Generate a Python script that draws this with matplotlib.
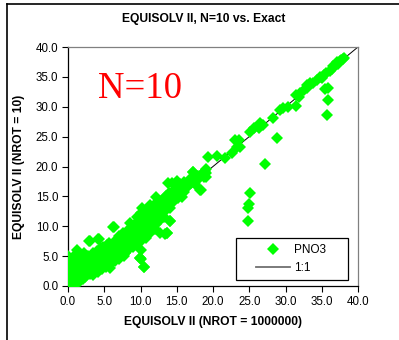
import matplotlib
matplotlib.use("Agg")
import matplotlib.pyplot as plt
from matplotlib.lines import Line2D
from matplotlib.patches import Rectangle

plt.rcParams['font.family'] = ['Liberation Sans', 'DejaVu Sans']

title = "EQUISOLV II, N=10 vs. Exact"
xlabel = "EQUISOLV II (NROT = 1000000)"
ylabel = "EQUISOLV II (NROT = 10)"
annot = "N=10"
series_name = "PNO3"
line_name = "1:1"
ticks = [0, 5, 10, 15, 20, 25, 30, 35, 40]
one_to_one = [0, 40]

# (x, y) pairs
pts_origin = [(0.0,0.0),(0.1,0.3),(0.0,0.8),(0.2,1.2),(0.0,1.6),(0.1,2.0),(0.0,2.5),(0.1,3.0),(0.0,3.5),
    (0.05,4.2),(0.05,5.0),(0.3,0.1),(0.4,0.6),(0.5,1.0),(0.3,1.5),(0.5,2.2),(0.4,2.8),(0.6,3.3),(0.2,3.9),
    (0.7,0.2),(0.8,0.8),(0.9,1.4),(0.8,2.0),(1.0,2.6),(0.9,3.2),(1.1,3.8),(1.2,0.5),(1.3,1.1),(1.4,1.8),
    (1.2,2.3),(1.5,2.9),(1.3,3.5),(1.2,4.5),(1.0,5.2),(1.6,0.9),(1.7,1.6),(1.8,2.4),(1.9,3.0),(1.7,3.7),
    (2.0,1.2),(2.1,2.0),(2.2,2.8),(2.3,3.4),(2.0,4.0),(1.5,4.8),(1.2,6.0),(0.5,4.5),(0.3,0.4),(0.6,1.8),
    (1.0,0.1),(0.2,2.4),(0.8,4.0),(0.7,0.0),(0.1,4.6)]
pts_low = [(2.4,1.5),(2.5,2.3),(2.6,3.0),(2.7,3.8),(2.5,4.5),(2.8,5.0),(2.9,7.6),(3.0,2.0),(3.1,2.7),
    (3.2,3.5),(3.3,4.2),(3.0,4.9),(3.4,5.5),(3.5,1.8),(3.6,2.5),(3.7,3.2),(3.8,4.0),(3.9,4.6),(3.6,5.2),
    (4.0,5.8),(4.2,7.9),(4.1,2.4),(4.2,3.1),(4.3,3.8),(4.4,4.5),(4.5,5.2),(4.3,6.0),(4.6,6.3),(4.7,2.8),
    (4.8,3.5),(4.9,4.2),(5.0,4.9),(5.0,5.6),(4.8,6.6),(2.2,5.5)]
pts_mid = [(5.2,3.2),(5.3,4.0),(5.4,4.7),(5.5,5.3),(5.6,6.1),(5.4,6.8),(5.7,7.2),(5.8,3.0),(5.9,3.8),
    (6.0,4.5),(6.1,5.2),(6.2,5.9),(6.0,6.6),(6.3,7.3),(6.2,9.8),(6.5,4.2),(6.6,5.0),(6.7,5.7),(6.8,6.4),
    (6.6,7.1),(6.9,7.8),(7.0,8.4),(7.1,4.6),(7.2,5.4),(7.3,6.2),(7.4,6.9),(7.2,7.6),(7.5,8.2),(7.6,8.8),
    (7.7,5.1),(7.8,5.9),(7.9,5.5),(7.9,6.7),(8.0,7.4),(7.8,8.1),(8.1,8.7),(8.2,9.2)]
pts_ten = [(8.3,6.0),(8.4,6.8),(8.5,7.5),(8.6,8.2),(8.4,8.9),(8.6,10.5),(8.7,9.5),(8.9,6.5),(9.0,7.3),
    (9.1,8.0),(9.2,8.7),(9.0,9.4),(9.3,10.0),(9.4,10.6),(9.5,7.0),(9.6,7.8),(9.7,8.5),(9.8,9.2),(9.6,9.9),
    (9.9,10.5),(9.9,4.7),(10.0,6.0),(10.1,4.6),(10.5,3.2),(10.1,7.5),(10.2,8.3),(10.3,9.0),(10.4,9.7),
    (10.2,10.4),(10.5,11.0),(10.2,13.0),(10.6,11.8),(10.7,8.0),(10.8,8.8),(10.9,9.6),(11.0,10.3),
    (10.8,11.1),(11.1,11.8),(11.2,12.5),(11.3,13.6),(10.0,12.3),(9.5,11.5)]
pts_twelve = [(11.4,9.0),(11.5,9.8),(11.6,10.6),(11.7,11.4),(11.5,12.2),(11.8,12.9),(11.9,13.5),
    (12.0,9.5),(12.1,10.4),(12.2,11.2),(12.3,12.0),(12.1,12.8),(12.4,13.5),(12.2,14.9),(12.5,14.2),
    (12.6,10.8),(12.7,8.9),(12.8,11.7),(12.9,12.5),(13.0,13.3),(12.8,14.0),(13.1,14.6),(13.2,11.5),
    (13.4,8.7),(13.5,12.8),(13.6,8.8),(13.6,13.6),(13.7,14.4),(13.5,15.0),(13.9,15.6),(14.1,10.8),
    (14.0,13.0),(14.2,14.0),(14.3,14.8),(14.1,15.6),(14.3,17.2),(13.8,17.2),(12.2,13.8)]
pts_upper = [(14.6,14.2),(14.7,15.0),(14.8,15.8),(14.9,16.8),(15.0,17.5),(15.2,14.8),(15.3,15.5),
    (15.5,16.2),(15.4,17.0),(15.7,16.0),(15.9,16.7),(16.0,17.4),(16.2,16.5),(16.4,17.2),(16.5,16.8),
    (16.7,17.6),(16.9,18.0),(17.2,19.1),(17.0,17.3),(17.3,17.8),(17.5,18.2),(17.7,17.5),(17.9,18.4),
    (18.1,18.0),(18.2,16.1),(18.4,18.6),(18.6,18.9),(18.7,18.3),(18.9,19.2),(19.1,19.5),(17.5,17.0),
    (16.0,15.8),(15.7,14.9),(14.5,15.8),(16.4,16.6),(19.1,18.3),(19.0,18.9)]
pts_high = [(19.3,21.6),(20.5,21.8),(21.7,21.4),(22.6,22.2),(23.0,24.4),(23.6,24.4),(23.3,23.3),
    (23.7,23.3),(25.1,25.8),(25.6,26.4),(26.5,27.2),(26.3,26.4),(26.9,27.0),(28.3,28.2),(29.2,29.5),
    (29.7,29.8),(30.4,30.0),(31.4,30.1),(31.5,32.0),(32.0,32.3),(32.5,32.8),(32.9,33.6),(33.4,33.9),
    (33.8,34.0),(34.4,34.5),(34.8,35.0),(35.3,35.3),(35.6,35.6),(36.1,35.9),(36.4,36.4),(36.8,37.0),
    (37.1,37.5),(37.5,37.7),(37.7,37.8),(37.9,38.0),(38.1,38.2),(36.6,36.8),(37.3,37.2),(35.0,34.8),
    (33.0,33.2),(31.8,31.6)]
pts_outliers = [(35.5,32.9),(35.8,33.2),(35.8,31.1),(35.7,28.6),(28.8,24.7),(27.2,20.4),(25.1,15.6),
    (25.0,13.7),(24.8,13.0),(24.8,10.9),(13.6,8.8),(14.1,10.8),(10.5,3.2),(9.9,4.7),(3.0,7.5),(4.3,7.9),
    (6.3,9.9),(7.9,5.5),(17.3,19.1),(18.4,16.1)]

groups = [pts_origin, pts_low, pts_mid, pts_ten, pts_twelve, pts_upper, pts_high, pts_outliers]
xs = [p[0] for g in groups for p in g]
ys = [p[1] for g in groups for p in g]

fig = plt.figure(figsize=(3.99, 3.40), dpi=100)
ax = fig.add_axes([68/399, 1-286/340, 290/399, 239/340])

ax.plot(one_to_one, one_to_one, color='black', lw=0.7, zorder=2)
ax.plot(xs, ys, linestyle='none', marker='D', ms=6.0, mfc='#00FF00', mec='#00FF00', mew=0, zorder=3)

ax.set_xlim(0, 40)
ax.set_ylim(0, 40)
ax.set_xticks(ticks)
ax.set_yticks(ticks)
ax.set_xticklabels([f"{t:.1f}" for t in ticks], fontsize=8.3)
ax.set_yticklabels([f"{t:.1f}" for t in ticks], fontsize=8.3)
ax.tick_params(direction='out', length=4, width=0.8, pad=3)
for s in ['left', 'bottom']:
    ax.spines[s].set_color('black')
    ax.spines[s].set_linewidth(0.9)
for s in ['top', 'right']:
    ax.spines[s].set_color('#808080')
    ax.spines[s].set_linewidth(0.9)

ax.set_xlabel(xlabel, fontsize=8.7, fontweight='bold', labelpad=6)
ax.set_ylabel(ylabel, fontsize=8.7, fontweight='bold', labelpad=8)
fig.text(204/399, 1-19/340, title, fontsize=8.7, fontweight='bold', ha='center', va='center')

ax.text(0.105, 0.825, annot, transform=ax.transAxes, fontsize=26.5, color='red',
        family=['Liberation Serif', 'DejaVu Serif'], ha='left', va='center')

# legend frame
ax.add_patch(Rectangle(((236-68)/290, (286-280)/239), (348-236)/290, 42/239, transform=ax.transAxes,
                       facecolor='white', edgecolor='black', lw=0.9, zorder=6, clip_on=False))
handles = [Line2D([], [], linestyle='none', marker='D', ms=6.0, mfc='#00FF00', mec='#00FF00', mew=0),
           Line2D([], [], color='#707070', lw=1.3)]
leg = ax.legend(handles, [series_name, line_name], loc='center left',
                bbox_to_anchor=((256-68)/290, (286-259)/239), frameon=False, fontsize=8.5,
                handlelength=2.9, handletextpad=0.35, labelspacing=0.55, borderpad=0.0, borderaxespad=0)
leg.set_zorder(7)

# figure border (top and left only visible)
fig.add_artist(Line2D([7/399, 1.02], [1-4/340, 1-4/340], color='black', lw=1.2, transform=fig.transFigure))
fig.add_artist(Line2D([7/399, 7/399], [1-4/340, -0.02], color='black', lw=1.2, transform=fig.transFigure))

fig.savefig("out.png", dpi=100)
